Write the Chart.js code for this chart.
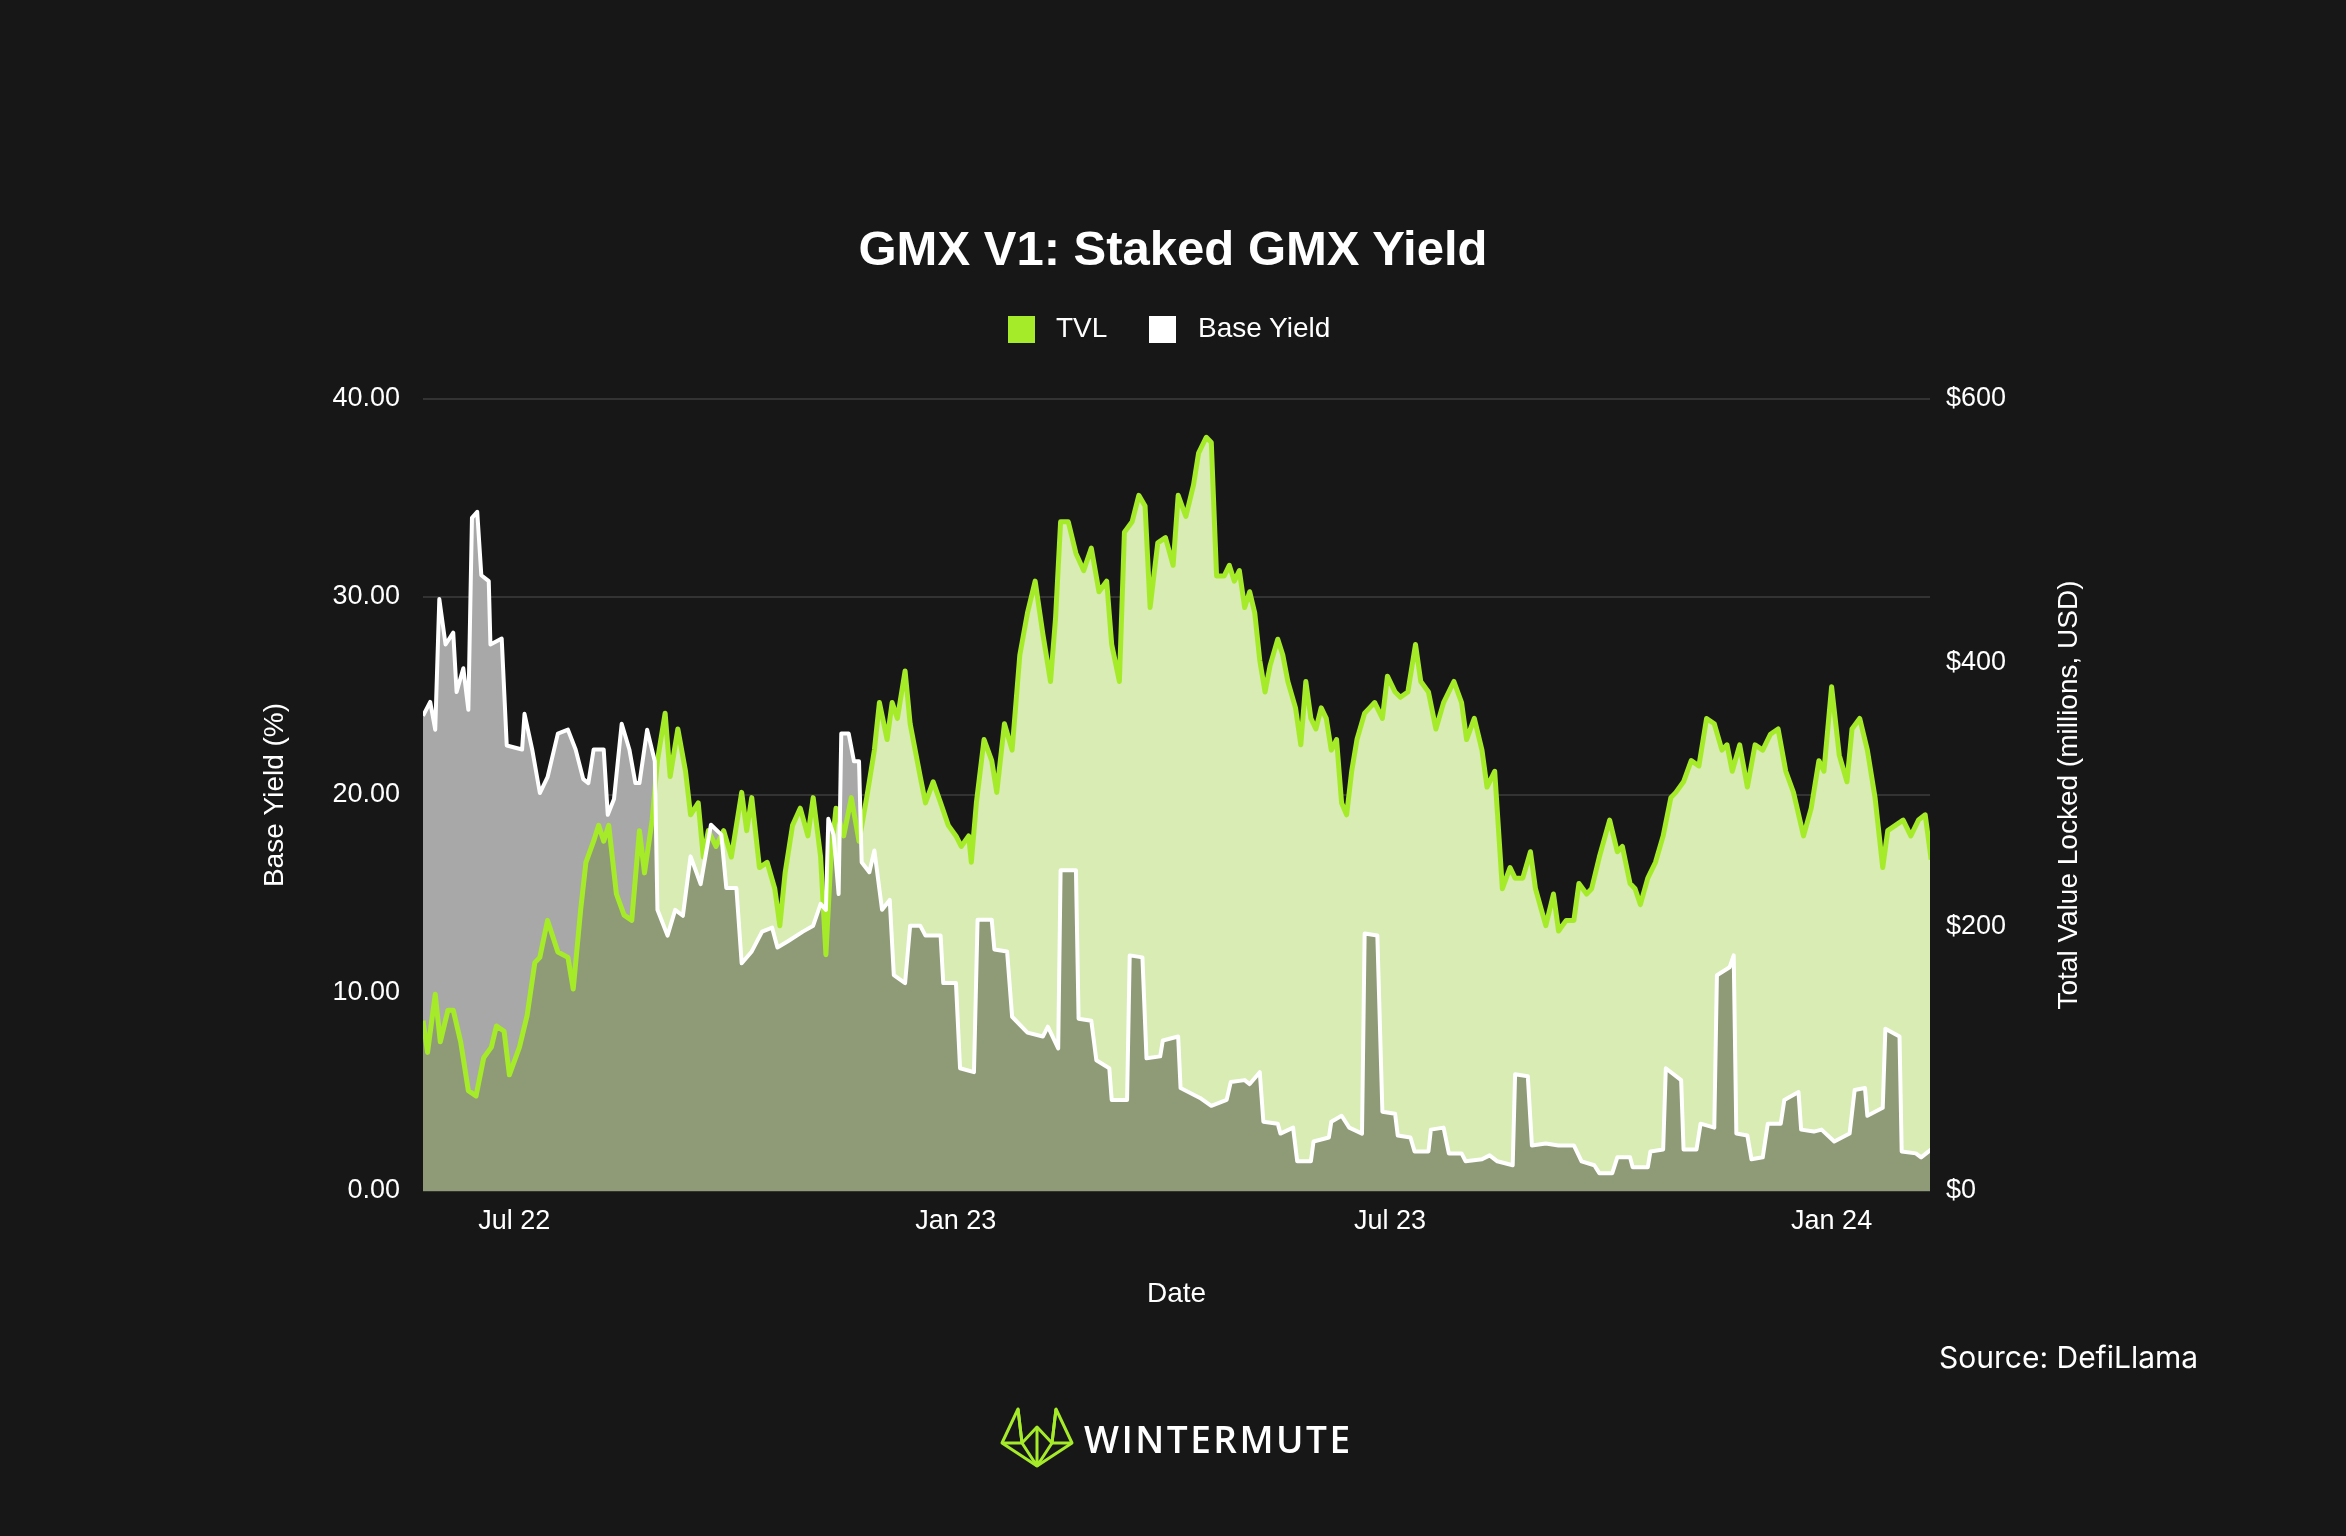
<!DOCTYPE html>
<html><head><meta charset="utf-8">
<script src="https://cdn.jsdelivr.net/npm/chart.js@4.4.1/dist/chart.umd.min.js"></script>
<style>
html,body{margin:0;padding:0;background:#171717;width:2346px;height:1536px;overflow:hidden;font-family:"Liberation Sans",Arial,sans-serif;color:#fff}
#c{position:absolute;left:0;top:0}
.t{position:absolute;white-space:nowrap}
</style></head><body>
<canvas id="c" width="2346" height="1536"></canvas>
<div class="t" style="left:0;width:2346px;top:220px;text-align:center;font-size:49px;font-weight:bold">GMX V1: Staked GMX Yield</div>
<div class="t" style="left:1008px;top:316px;width:27px;height:27px;background:#a6eb2a"></div>
<div class="t" style="left:1056px;top:312px;font-size:28px">TVL</div>
<div class="t" style="left:1149px;top:316px;width:27px;height:27px;background:#fff"></div>
<div class="t" style="left:1198px;top:312px;font-size:28px">Base Yield</div>
<div class="t" style="left:1939px;top:1339px;font-size:30px;font-family:Inter,sans-serif">Source: DefiLlama</div>
<svg class="t" style="left:998px;top:1405px" width="78" height="64" viewBox="0 0 78 64">
<g fill="none" stroke="#a6eb2a" stroke-width="3" stroke-linejoin="round">
<path d="M20 4 L4 38 L39 61 L74 38 L58 4 L54 38 L39 22 L24 38 Z"/>
<path d="M4 38 L24 38 M54 38 L74 38 M39 22 L39 61 M24 38 L39 61 M54 38 L39 61 M20 4 L24 38 M58 4 L54 38"/>
</g></svg>
<div class="t" style="left:1084px;top:1413px;font-size:37px;font-family:'Open Sans',sans-serif;font-weight:600;letter-spacing:2.5px">WINTERMUTE</div>
<script>
// Base yield (%) : day offsets since 2022-05-24 and values
const yieldDays=[0,3,5.1,6.8,9.4,12.6,14,16.8,18.9,20.4,22.6,24.3,27.4,28.1,32.8,34.9,41.3,42.3,45.5,48.7,51.9,56.2,60.4,63.6,66.8,68.9,71.1,75.3,77,79.6,82.8,86,88.5,90.2,93.4,96.6,97.7,101.9,105.1,108.3,111.5,115.7,120,124.3,126.4,130.6,132.8,137,141.3,145.5,147.7,151.9,158.3,162.6,165.7,167.9,168.9,171.1,173.2,174.3,177.4,179.6,181.7,182.8,186,188.1,191.3,194.5,196.2,200.9,203,207.2,209.4,215.7,216.8,222.1,223.8,229.6,231.1,237,238.1,243.4,245.5,251.9,258.3,260.4,264.7,265.7,272.1,273.2,278.5,280.6,286,287,293.4,294.5,299.8,301.5,307.2,308.3,314.7,315.7,323.8,328.5,334.9,336.6,342.4,344.5,348.7,350.2,356.2,357.3,362.6,364.3,370,371.1,377.5,378.5,382.8,386,391.3,392.4,397.7,399.8,405.1,406.2,411.5,413.2,419,420,425.3,427.5,432.8,434.5,441.3,444.5,447.7,454.1,455.1,460.4,462.1,467.9,473.2,479.6,482.8,488.1,490.2,495.6,497.7,503,504.1,510.4,511.5,516.8,517.9,524.3,525.3,530.7,532.4,538.1,539.2,544.5,546.2,547.3,551.9,553.6,558.3,560.4,565.8,567.3,573.2,574.3,579.6,582.8,588.1,594.5,596.6,600.9,601.9,608.3,609.4,615.3,616.2,622.1,624.3,628.5];
const yieldVals=[24.0,24.7,23.3,29.9,27.6,28.2,25.2,26.4,24.3,34.0,34.3,31.1,30.8,27.6,27.9,22.5,22.3,24.1,22.3,20.1,20.9,23.1,23.3,22.3,20.8,20.6,22.3,22.3,19.0,19.8,23.6,22.3,20.6,20.6,23.3,21.7,14.2,12.9,14.2,13.9,16.9,15.5,18.5,18.0,15.3,15.3,11.5,12.1,13.1,13.3,12.3,12.6,13.1,13.4,14.5,14.2,18.8,18.0,15.0,23.1,23.1,21.7,21.7,16.6,16.1,17.2,14.2,14.7,10.9,10.5,13.4,13.4,12.9,12.9,10.5,10.5,6.2,6.0,13.7,13.7,12.2,12.1,8.8,8.0,7.8,8.3,7.2,16.2,16.2,8.7,8.6,6.6,6.2,4.6,4.6,11.9,11.8,6.7,6.8,7.6,7.8,5.2,4.7,4.3,4.6,5.5,5.6,5.4,6.0,3.5,3.4,2.9,3.2,1.5,1.5,2.5,2.7,3.5,3.8,3.2,2.9,13.0,12.9,4.0,3.9,2.8,2.7,2.0,2.0,3.1,3.2,1.9,1.9,1.5,1.6,1.8,1.5,1.3,5.9,5.8,2.3,2.4,2.3,2.3,1.5,1.3,0.9,0.9,1.7,1.7,1.2,1.2,2.0,2.1,6.2,5.6,2.1,2.1,3.4,3.2,10.9,11.3,11.9,2.9,2.8,1.6,1.7,3.4,3.4,4.6,5.0,3.1,3.0,3.1,2.5,2.9,5.1,5.2,3.8,4.2,8.2,7.8,2.0,1.9,1.7,2.1];
// TVL (millions USD)
const tvlDays=[0,1.9,5.1,7.2,10.4,12.6,15.7,18.9,22.1,25.3,28.5,30.6,33.8,36,40.2,43.4,46.6,48.7,51.9,56.2,60.4,62.6,65.7,67.9,71.1,73.2,75.3,77.4,80.6,83.8,87,90.2,92.3,95.5,97.7,100.9,103,106.2,109.4,111.5,114.7,116.8,118.9,122.1,125.3,128.5,132.8,134.9,137,140.2,143.4,146.6,148.7,150.9,154,157.2,160.4,162.6,165.7,167.9,170,172.1,175.3,178.5,181.7,184.9,188.1,190.2,193.4,195.5,197.7,200.9,203,207.2,209.4,212.6,215.7,218.9,222.1,224.3,227.4,228.5,230.6,233.8,237,239.1,242.3,245.5,248.7,251.9,255.1,258.3,261.5,263.6,265.7,268.9,272.1,275.3,278.5,281.7,284.9,287,290.2,292.3,295.5,298.3,300.9,303,306.2,309.4,312.6,314.7,317.9,321.1,323.2,326.4,328.5,330.7,333.9,336,338.1,340.2,342.4,344.5,346.6,348.7,350.9,353,356.2,358.3,360.4,363.6,365.8,367.9,370,372.1,374.3,376.4,378.5,380.7,382.8,384.9,387,389.2,392.4,394.5,396.6,399.8,401.9,405.1,407.3,410.4,413.6,415.8,419,422.1,425.3,429.6,432.8,434.9,438.1,441.3,443.4,446.6,449.8,453,455.1,458.3,461.5,463.6,467.9,471.1,473.2,476.4,479.6,481.7,484.9,487,490.2,494.5,497.7,499.8,503,505.1,507.3,510.4,513.6,516.8,520,522.1,525.3,528.5,531.7,534.9,538.1,541.3,543.4,545.6,548.7,551.9,555.1,558.3,561.5,564.7,567.9,571.1,575.3,578.5,581.7,583.8,587,590.2,593.4,595.5,598.7,601.9,605.1,608.3,610.4,613.6,616.8,620,623.2,626,628.5];
const tvlVals=[129,105,149,113,137,137,113,76,72,101,109,125,121,88,109,133,173,177,205,181,177,153,213,249,265,277,265,277,225,209,205,273,241,281,326,362,314,350,318,285,294,253,273,261,273,253,302,273,298,245,249,229,201,241,277,290,269,298,253,179,253,290,269,298,265,298,334,370,342,370,358,394,354,314,294,310,294,277,269,261,269,249,294,342,326,302,354,334,406,438,462,422,386,434,507,507,483,470,487,454,462,414,386,499,507,527,519,442,491,495,474,527,511,535,559,571,567,466,466,474,462,470,442,454,438,402,378,398,418,406,386,366,338,386,358,350,366,358,334,342,294,285,318,342,362,366,370,358,390,378,374,378,414,386,378,350,370,386,370,342,358,334,306,318,229,245,237,237,257,229,201,225,197,205,205,233,225,229,253,281,257,261,233,229,217,237,249,269,298,302,310,326,322,358,354,334,338,318,338,306,338,334,346,350,318,302,269,290,326,318,382,330,310,350,358,334,298,245,273,277,281,269,281,285,251];
const tickDays=[38,222,403,587];
const tickLabels=['Jul 22','Jan 23','Jul 23','Jan 24'];
const leftTicks=[0,10,20,30,40];
const rightTicks=[0,200,400,600];
const rightTitle='Total Value Locked (millions, USD)';

const yPts=yieldDays.map((d,i)=>({x:d,y:yieldVals[i]}));
const tPts=tvlDays.map((d,i)=>({x:d,y:tvlVals[i]}));
const F='"Liberation Sans", Arial, sans-serif';
const mult={id:'mult',
 afterDatasetDraw(c,a){
   const ds=c.data.datasets[a.index];
   if(ds.startMultiply){c.ctx.globalCompositeOperation='multiply';}
   if(ds.multiply){c.ctx.globalCompositeOperation='source-over';}
 },
 afterDatasetsDraw(c){
   // grid lines behind everything already drawn
   const ctx=c.ctx, s=c.scales.y, a=c.chartArea;
   ctx.save();ctx.globalCompositeOperation='destination-over';
   ctx.strokeStyle='#333333';ctx.lineWidth=2;
   leftTicks.forEach(v=>{const y=Math.round(s.getPixelForValue(v));ctx.beginPath();ctx.moveTo(a.left,y);ctx.lineTo(a.right,y);ctx.stroke();});
   ctx.restore();
 },
 afterDraw(c){
   const ctx=c.ctx;ctx.save();
   ctx.translate(2069,(c.chartArea.top+c.chartArea.bottom)/2);
   ctx.rotate(-Math.PI/2);
   ctx.fillStyle='#fff';ctx.font='28px '+F;ctx.textAlign='center';ctx.textBaseline='middle';
   ctx.fillText(rightTitle,0,0);ctx.restore();
 }};
new Chart(document.getElementById('c'),{
 type:'line',
 data:{datasets:[
  {label:'TVLfill',data:tPts,yAxisID:'y1',fill:'origin',backgroundColor:'#d8ecb3',borderWidth:0,pointRadius:0,order:4,startMultiply:true},
  {label:'Yfill',data:yPts,yAxisID:'y',fill:'origin',backgroundColor:'#a8a8a8',borderWidth:0,pointRadius:0,order:3,multiply:true},
  {label:'TVL',data:tPts,yAxisID:'y1',fill:false,borderColor:'#a6eb2a',borderWidth:5,pointRadius:0,order:2,borderJoinStyle:'round'},
  {label:'Base Yield',data:yPts,yAxisID:'y',fill:false,borderColor:'#ffffff',borderWidth:4,pointRadius:0,order:1,borderJoinStyle:'round'}
 ]},
 plugins:[mult],
 options:{responsive:false,animation:false,devicePixelRatio:1,
  layout:{padding:{left:258,right:263,top:399,bottom:225}},
  plugins:{legend:{display:false},tooltip:{enabled:false}},
  scales:{
   x:{type:'linear',min:0,max:628,grid:{display:false},border:{display:false},
     afterBuildTicks(s){s.ticks=tickDays.map(v=>({value:v}));},
     afterFit(s){s.height=120;},
     ticks:{color:'#fff',font:{size:27,family:F},padding:6,maxRotation:0,autoSkip:false,callback:(v)=>tickLabels[tickDays.indexOf(v)]},
     title:{display:true,text:'Date',color:'#fff',font:{size:28,family:F},padding:{top:4,bottom:0}}},
   y:{position:'left',min:0,max:40,grid:{display:false},border:{display:false},
     afterBuildTicks(s){s.ticks=leftTicks.map(v=>({value:v}));},
     afterFit(s){s.width=165;},
     ticks:{color:'#fff',font:{size:27,family:F},padding:15,callback:v=>v.toFixed(2)},
     title:{display:true,text:'Base Yield (%)',color:'#fff',font:{size:28,family:F},padding:{top:0,bottom:0}}},
   y1:{position:'right',min:0,max:600,grid:{display:false},border:{display:false},
     afterBuildTicks(s){s.ticks=rightTicks.map(v=>({value:v}));},
     afterFit(s){s.width=153;},
     ticks:{color:'#fff',font:{size:27,family:F},padding:8,callback:v=>'$'+v},
     title:{display:false}}
  }}
});
</script></body></html>
